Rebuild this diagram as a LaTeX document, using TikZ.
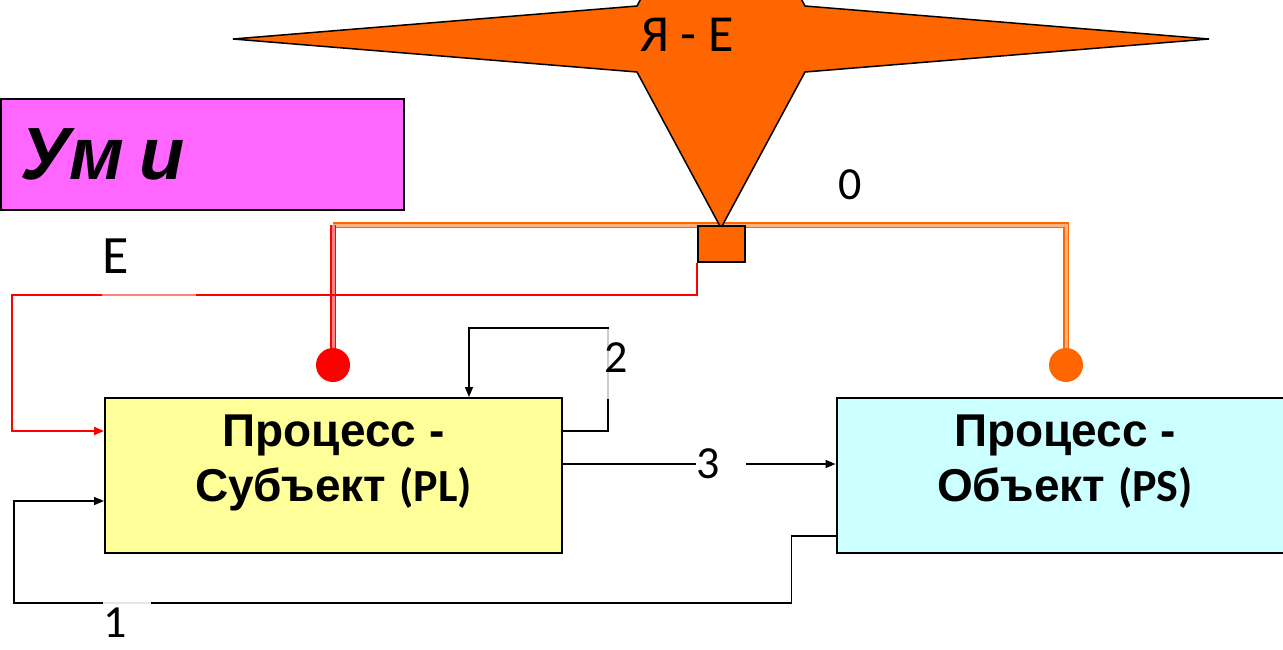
\documentclass[tikz,border=0pt]{standalone}
\usepackage{fontspec}
\setmainfont{Liberation Sans}
\newfontfamily\calfont{Carlito}
\usetikzlibrary{arrows.meta,positioning,calc,backgrounds}
\definecolor{starorange}{HTML}{FF6600}
\definecolor{umpink}{HTML}{FF66FF}
\definecolor{subjyellow}{HTML}{FFFF99}
\definecolor{objcyan}{HTML}{CCFFFF}

\begin{document}
\begin{tikzpicture}[x=1pt,y=-1pt,
    procbox/.style={draw, line width=2pt, minimum width=457pt, minimum height=155pt, align=center, font=\fontsize{46}{55}\selectfont\bfseries, text depth=35pt},
    wire/.style={line width=1.5pt, -{Triangle[length=10pt,width=8pt]}},
    busline/.style={draw=#1, line width=1.1pt, double=#1!50, double distance=3pt},
    numlbl/.style={font=\calfont\fontsize{46}{55}\selectfont, fill=white, inner sep=0pt}]
				\useasboundingbox (0,0) rectangle (1283,649);
				% star and hub
				\filldraw[fill=starorange, draw=black, line width=1.5pt] (233,39) -- (637,6) -- (721,-150) -- (805,6) -- (1209,39) -- (805,72) -- (721,228) -- (637,72) -- cycle;
				\node[font=\calfont\fontsize{52}{60}\selectfont] (selfE) at (687,35) {Я - Е};
				\node[draw, line width=2pt, fill=starorange, minimum width=47pt, minimum height=36pt, inner sep=0pt] (hub) at (721.5,244) {};
				\node[circle, fill=red, minimum size=34pt, inner sep=0pt] (dotL) at (333,365) {};
				\node[circle, fill=starorange, minimum size=34pt, inner sep=0pt] (dotR) at (1066,365) {};
				\begin{pgfonlayer}{background}
					\draw[busline=starorange] (dotL |- hub.north) -- (dotR |- hub.north) -- (dotR.center);
					\draw[busline=red] (dotL.center) -- (dotL |- hub.north);
				\end{pgfonlayer}
				% boxes
				\node[draw, line width=1.5pt, fill=umpink, anchor=north west, minimum width=403pt, minimum height=111pt, text width=363pt, inner xsep=20pt, align=left, font=\fontsize{74}{80}\selectfont\bfseries\itshape] (um) at (0,98) {Ум\hspace{-9pt} и};
				\node[procbox, fill=subjyellow] (subj) at (333.5,475.5) {Процесс -\\Субъект {\calfont (PL)}};
				\node[procbox, fill=objcyan] (obj) at (1065,475.5) {Процесс -\\Объект {\calfont (PS)}};
				% connectors
				\draw[wire, draw=red, line width=2pt] (hub.south west) |- (12,295) |- ([yshift=-34pt]subj.north west);
				\draw[wire] ([yshift=-34pt]subj.north east) -- ++(45,0) -- ++(0,-103) -| ([xshift=365pt]subj.north west);
				\draw[wire] ([yshift=-67pt]subj.north east) -- node[numlbl, pos=0.485, anchor=west, text width=48pt, inner xsep=1pt, align=left] (lbl3) {3} ([yshift=-67pt]obj.north west);
				\draw[wire] ([yshift=18pt]obj.south west) -- ++(-44,0) |- (14,603) |- ([yshift=53pt]subj.south west);
				% labels
				\node[font=\calfont\fontsize{46}{55}\selectfont] (lbl0) at (850,185) {0};
				\node[numlbl, font=\calfont\fontsize{54}{60}\selectfont, fill opacity=0.5, text opacity=1, anchor=south west, text width=94pt, align=left, text depth=22pt, inner ysep=2pt] (lblE) at (102,298) {Е};
				\node[numlbl, fill opacity=0.9, text opacity=1, anchor=north west, text width=48pt, align=left, text height=34pt, inner ysep=2pt] (lbl1) at (103,601) {1};
				\node[numlbl, fill opacity=0.8, text opacity=1, anchor=west, minimum height=70pt, text depth=12pt] (lbl2) at (604,364) {2};
			\end{tikzpicture}
\end{document}
